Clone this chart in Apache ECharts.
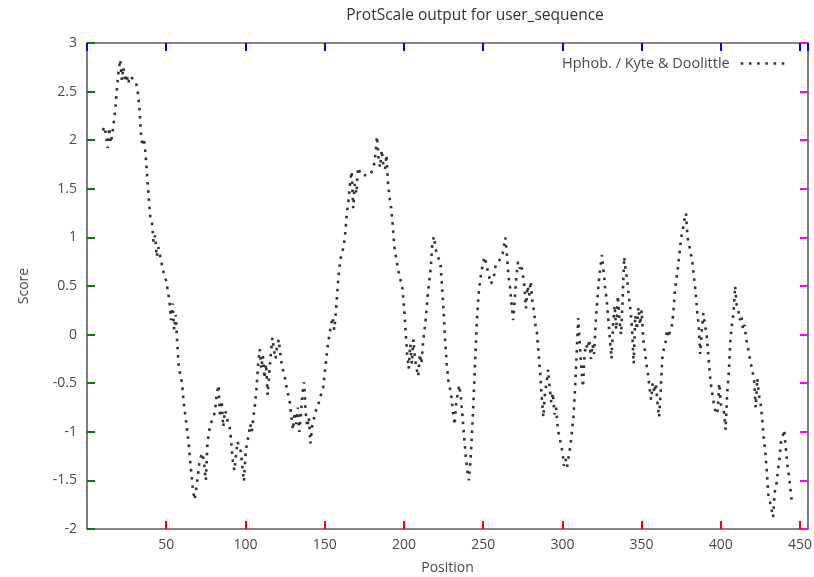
<!DOCTYPE html>
<html>
<head>
<meta charset="utf-8">
<script src="https://cdn.jsdelivr.net/npm/echarts@6/dist/echarts.min.js"></script>
<style>
html,body{margin:0;padding:0;background:#fff;}
#chart{width:814px;height:577px;}
</style>
</head>
<body>
<div id="chart"></div>
<script>
// ---- data ----
const titleText = "ProtScale output for user_sequence";
const seriesName = "Hphob. / Kyte & Doolittle";
const xName = "Position";
const yName = "Score";
const startPos = 10;
const scores = [
  2.10, 2.14, 2.05, 1.92, 2.13, 1.97, 2.07, 2.20, 2.35, 2.55,
  2.72, 2.83, 2.62, 2.75, 2.60, 2.68, 2.58, 2.66, 2.64, 2.63,
  2.62, 2.59, 2.50, 2.35, 2.08, 1.94, 2.02, 1.85, 1.62, 1.40,
  1.20, 1.15, 0.95, 1.02, 0.80, 0.90, 0.82, 0.74, 0.66, 0.60,
  0.55, 0.45, 0.35, 0.15, 0.32, 0.05, 0.20, -0.10, -0.35, -0.42,
  -0.50, -0.70, -0.82, -0.95, -1.10, -1.28, -1.45, -1.62, -1.70, -1.68,
  -1.45, -1.30, -1.25, -1.22, -1.35, -1.50, -1.12, -1.00, -0.92, -0.88,
  -0.85, -0.75, -0.60, -0.52, -0.85, -0.68, -0.95, -0.78, -0.82, -0.92,
  -0.95, -1.10, -1.30, -1.40, -1.25, -1.10, -1.08, -1.20, -1.35, -1.51,
  -1.25, -1.10, -1.05, -0.92, -1.00, -0.85, -0.72, -0.55, -0.30, -0.15,
  -0.35, -0.22, -0.45, -0.30, -0.62, -0.40, -0.20, -0.03, -0.15, -0.25,
  -0.12, -0.05, -0.20, -0.32, -0.30, -0.45, -0.55, -0.62, -0.70, -0.85,
  -0.98, -0.80, -0.92, -0.75, -1.00, -0.82, -0.60, -0.49, -0.80, -0.95,
  -0.85, -1.12, -0.95, -0.88, -0.80, -0.78, -0.72, -0.65, -0.60, -0.55,
  -0.40, -0.25, -0.10, 0.00, 0.10, 0.18, 0.05, 0.22, 0.45, 0.65,
  0.78, 0.85, 0.90, 1.05, 1.25, 1.38, 1.55, 1.68, 1.30, 1.55,
  1.45, 1.72, 1.68, 1.64, 1.65, 1.64, 1.63, 1.64, 1.64, 1.65,
  1.64, 1.73, 1.85, 2.04, 1.80, 1.72, 1.90, 1.75, 1.70, 1.85,
  1.55, 1.40, 1.30, 1.11, 0.90, 0.80, 0.70, 0.62, 0.55, 0.48,
  0.30, 0.05, -0.20, -0.35, -0.10, -0.30, -0.05, -0.25, -0.35, -0.43,
  -0.20, -0.30, -0.10, 0.05, 0.20, 0.40, 0.55, 0.70, 0.95, 1.01,
  0.88, 0.82, 0.78, 0.75, 0.50, 0.25, -0.05, -0.30, -0.47, -0.55,
  -0.65, -0.80, -0.93, -0.70, -0.60, -0.52, -0.65, -0.85, -1.05, -1.25,
  -1.40, -1.50, -1.30, -1.00, -0.65, -0.25, 0.12, 0.40, 0.55, 0.65,
  0.75, 0.80, 0.72, 0.65, 0.58, 0.52, 0.50, 0.62, 0.72, 0.74,
  0.76, 0.78, 0.80, 0.90, 1.00, 0.82, 0.60, 0.48, 0.30, 0.15,
  0.39, 0.60, 0.75, 0.68, 0.72, 0.62, 0.50, 0.27, 0.50, 0.40,
  0.55, 0.35, 0.25, 0.10, 0.01, -0.20, -0.40, -0.65, -0.85, -0.60,
  -0.50, -0.36, -0.55, -0.70, -0.60, -0.82, -0.75, -0.95, -1.05, -1.12,
  -1.20, -1.35, -1.28, -1.36, -1.25, -1.15, -1.00, -0.85, -0.55, -0.20,
  0.17, -0.10, -0.35, -0.54, -0.20, -0.10, -0.15, -0.05, -0.25, -0.10,
  -0.20, 0.12, 0.35, 0.55, 0.70, 0.82, 0.65, 0.48, 0.35, 0.15,
  -0.05, -0.25, 0.10, 0.30, 0.05, 0.40, 0.15, 0.00, 0.35, 0.80,
  0.65, 0.55, 0.38, 0.25, 0.05, -0.30, 0.20, 0.05, 0.28, 0.10,
  0.25, -0.05, -0.16, -0.30, -0.40, -0.55, -0.67, -0.50, -0.60, -0.50,
  -0.70, -0.85, -0.60, -0.25, -0.15, -0.10, 0.05, -0.03, 0.05, 0.08,
  0.22, 0.45, 0.58, 0.70, 0.85, 1.00, 1.08, 1.18, 1.25, 1.00,
  0.92, 0.90, 0.75, 0.60, 0.45, 0.25, 0.10, -0.20, 0.05, 0.22,
  0.10, 0.00, -0.19, -0.40, -0.55, -0.65, -0.75, -0.82, -0.78, -0.50,
  -0.72, -0.70, -0.80, -0.98, -0.60, -0.40, -0.06, 0.10, 0.22, 0.50,
  0.30, 0.25, 0.15, 0.20, 0.05, 0.10, -0.05, -0.12, -0.22, -0.30,
  -0.38, -0.47, -0.75, -0.45, -0.62, -0.70, -0.85, -1.05, -1.20, -1.40,
  -1.65, -1.72, -1.70, -1.88, -1.62, -1.55, -1.40, -1.28, -1.10, -1.05,
  -0.98, -1.00, -1.35, -1.45, -1.60, -1.75
];
const xMin = 0, xMax = 455, xStep = 50;
const yMin = -2, yMax = 3, yStep = 0.5;

// ---- chart ----
const points = scores.map((v, i) => [startPos + i, v]);
const frameColor = '#5c5c5c';
const labelColor = '#4a4a4a';
const font = 'Open Sans, Noto Sans, sans-serif';

const chart = echarts.init(document.getElementById('chart'));
chart.setOption({
  animation: false,
  title: {
    text: titleText,
    left: 470, top: 3,
    textAlign: 'center',
    textStyle: { fontFamily: font, fontSize: 15.5, fontWeight: 'normal', color: '#333' }
  },
  legend: {
    right: 21, top: 51,
    align: 'right',
    itemWidth: 46, itemHeight: 10,
    itemGap: 0,
    itemStyle: { opacity: 0 },
    lineStyle: { color: '#333', width: 2.6, type: [2.6, 5.6] },
    textStyle: { fontFamily: font, fontSize: 14.5, color: labelColor, padding: [0, 6, 0, 0] },
    data: [seriesName]
  },
  grid: { left: 87, right: 6, top: 43, bottom: 48, outerBoundsMode: 'none' },
  xAxis: [
    { type: 'value', min: xMin, max: xMax, interval: xStep, position: 'bottom',
      name: xName, nameLocation: 'middle', nameGap: 32,
      nameTextStyle: { fontFamily: font, fontSize: 14, color: labelColor },
      axisLine: { show: true, onZero: false, lineStyle: { color: frameColor, width: 1.6 } },
      axisTick: { show: true, inside: true, length: 8, lineStyle: { color: 'red', width: 2 } },
      splitLine: { show: false },
      axisLabel: { showMinLabel: false, showMaxLabel: false, margin: 9, fontFamily: font, fontSize: 14, color: labelColor } },
    { type: 'value', min: xMin, max: xMax, interval: xStep, position: 'top',
      axisLine: { show: true, onZero: false, lineStyle: { color: frameColor, width: 1.6 } },
      axisTick: { show: true, inside: true, length: 8, lineStyle: { color: 'blue', width: 2 } },
      splitLine: { show: false },
      axisLabel: { show: false } }
  ],
  yAxis: [
    { type: 'value', min: yMin, max: yMax, interval: yStep, position: 'left',
      name: yName, nameLocation: 'middle', nameGap: 56, nameRotate: 90,
      nameTextStyle: { fontFamily: font, fontSize: 14, color: labelColor },
      axisLine: { show: true, onZero: false, lineStyle: { color: frameColor, width: 1.6 } },
      axisTick: { show: true, inside: true, length: 8, lineStyle: { color: 'green', width: 2 } },
      splitLine: { show: false },
      axisLabel: { margin: 10, fontFamily: font, fontSize: 14, color: labelColor } },
    { type: 'value', min: yMin, max: yMax, interval: yStep, position: 'right',
      axisLine: { show: true, onZero: false, lineStyle: { color: frameColor, width: 1.6 } },
      axisTick: { show: true, inside: true, length: 8, lineStyle: { color: 'magenta', width: 2 } },
      splitLine: { show: false },
      axisLabel: { show: false } }
  ],
  series: [{
    name: seriesName,
    type: 'line',
    data: points,
    showSymbol: false,
    symbol: 'none',
    lineStyle: { color: '#333', width: 2.6, type: [2.6, 5.6] },
    itemStyle: { color: '#333' }
  }]
});
</script>
</body>
</html>
